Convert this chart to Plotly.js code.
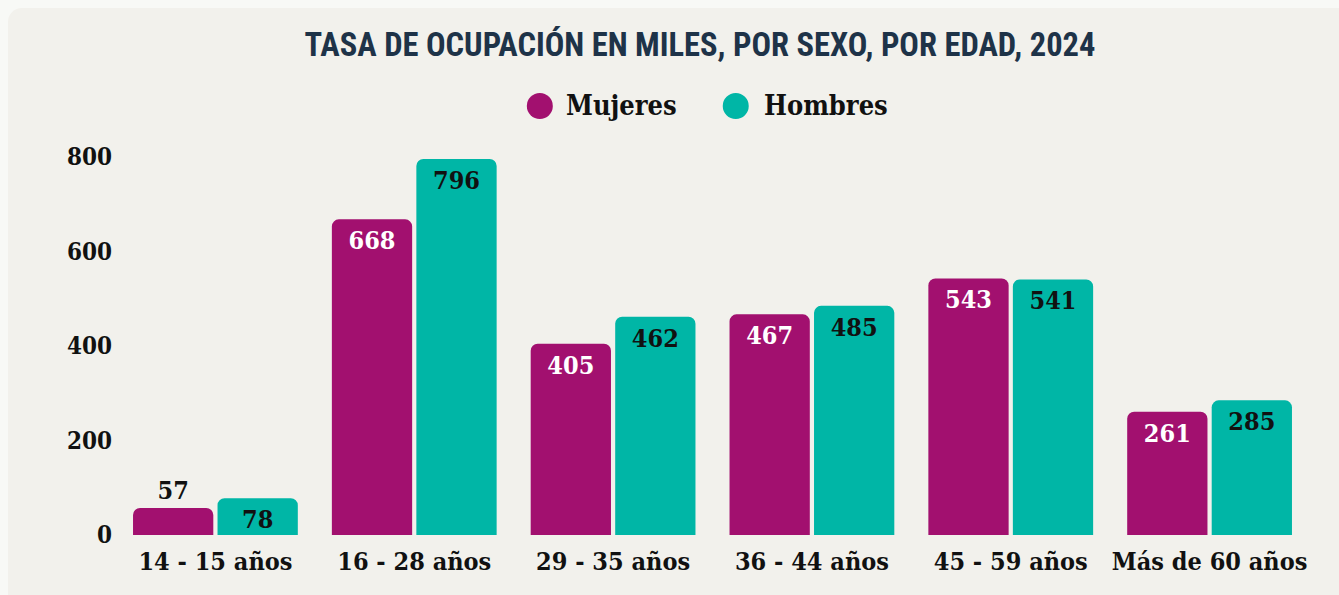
<!DOCTYPE html>
<html>
<head>
<meta charset="utf-8">
<script src="https://cdn.plot.ly/plotly-3.0.1.min.js"></script>
<style>
  html, body { margin:0; padding:0; width:1339px; height:595px; overflow:hidden; background:#F8F9F6; }
  #panel { position:absolute; left:8px; top:8px; width:1345px; height:600px; border-radius:14px; background:#F2F1EC; }
  #chart { position:absolute; left:0; top:0; width:1339px; height:595px; }
</style>
</head>
<body>
<div id="panel"></div>
<div id="chart"></div>
<script>
const categories = ["14 - 15 años", "16 - 28 años", "29 - 35 años", "36 - 44 años", "45 - 59 años", "Más de 60 años"];
const mujeres = [57, 668, 405, 467, 543, 261];
const hombres = [78, 796, 462, 485, 541, 285];
const seriesNames = ["Mujeres", "Hombres"];
const yTicks = [0, 200, 400, 600, 800];

const colMuj = "#A2106F";
const colHom = "#00B6A6";
const serif = "'DejaVu Serif Condensed', 'DejaVu Serif', serif";
const condSans = "'Roboto Condensed', 'Liberation Sans Narrow', 'DejaVu Sans Condensed', 'Roboto', sans-serif";

function posFor(vals) { return vals.map(v => v < 70 ? "outside" : "inside"); }

const traces = [
  {
    type: "bar", name: seriesNames[0], x: categories, y: mujeres,
    marker: { color: colMuj }, showlegend: false,
    text: mujeres.map(String), textposition: posFor(mujeres), insidetextanchor: "end",
    insidetextfont: { family: serif, size: 25, color: "#FFFFFF", weight: "bold" },
    outsidetextfont: { family: serif, size: 25, color: "#111111", weight: "bold" },
    textangle: 0, cliponaxis: false, hoverinfo: "skip"
  },
  {
    type: "bar", name: seriesNames[1], x: categories, y: hombres,
    marker: { color: colHom }, showlegend: false,
    text: hombres.map(String), textposition: posFor(hombres), insidetextanchor: "end",
    insidetextfont: { family: serif, size: 25, color: "#111111", weight: "bold" },
    outsidetextfont: { family: serif, size: 25, color: "#111111", weight: "bold" },
    textangle: 0, cliponaxis: false, hoverinfo: "skip"
  }
];

const legY = 1.135;
const layout = {
  width: 1339, height: 595,
  paper_bgcolor: "rgba(0,0,0,0)", plot_bgcolor: "rgba(0,0,0,0)",
  margin: { l: 116, r: 29.5, t: 157, b: 60 },
  barmode: "group", bargap: 0.15, bargroupgap: 0.05, barcornerradius: 7,
  uniformtext: { mode: false },
  title: {
    text: "TASA DE OCUPACIÓN EN MILES, POR SEXO, POR EDAD, 2024",
    font: { family: condSans, size: 32.5, color: "#1E3348", weight: "bold" },
    xref: "container", x: 700/1339, xanchor: "center",
    yref: "container", y: 1 - 45/595, yanchor: "middle"
  },
  xaxis: {
    showgrid: false, zeroline: false, showline: false, ticks: "",
    ticklabelstandoff: 9,
    tickfont: { family: serif, size: 25, color: "#111111", weight: "bold" }
  },
  yaxis: {
    range: [0, 800], tickvals: yTicks, ticktext: yTicks.map(String),
    showgrid: false, zeroline: false, showline: false, ticks: "",
    ticklabelstandoff: 3,
    tickfont: { family: serif, size: 24, color: "#111111", weight: "bold" }
  },
  shapes: [
    { type: "circle", xref: "paper", yref: "paper", xsizemode: "pixel", ysizemode: "pixel",
      xanchor: (540-116)/1193.5, yanchor: legY, x0: -13, x1: 13, y0: -13, y1: 13,
      fillcolor: colMuj, line: { width: 0 } },
    { type: "circle", xref: "paper", yref: "paper", xsizemode: "pixel", ysizemode: "pixel",
      xanchor: (736-116)/1193.5, yanchor: legY, x0: -13, x1: 13, y0: -13, y1: 13,
      fillcolor: colHom, line: { width: 0 } }
  ],
  annotations: [
    { text: seriesNames[0], xref: "paper", yref: "paper", x: (564-116)/1193.5, y: legY,
      xanchor: "left", yanchor: "middle", showarrow: false,
      font: { family: serif, size: 27, color: "#111111", weight: "bold" } },
    { text: seriesNames[1], xref: "paper", yref: "paper", x: (762-116)/1193.5, y: legY,
      xanchor: "left", yanchor: "middle", showarrow: false,
      font: { family: serif, size: 27, color: "#111111", weight: "bold" } }
  ]
};

Plotly.newPlot("chart", traces, layout, { staticPlot: true, displayModeBar: false });
</script>
</body>
</html>
